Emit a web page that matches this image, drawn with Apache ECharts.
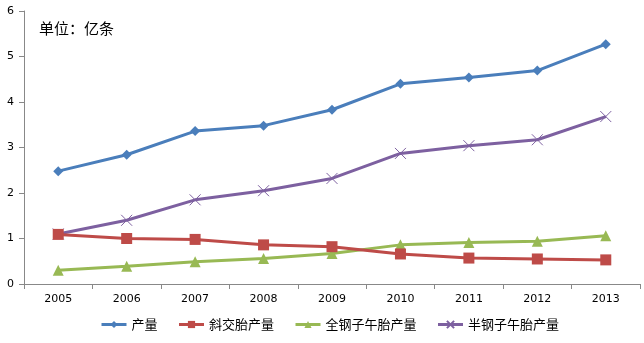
<!DOCTYPE html>
<html><head><meta charset="utf-8">
<script src="https://cdn.jsdelivr.net/npm/echarts@6/dist/echarts.min.js"></script>
<style>html,body{margin:0;padding:0;background:#fff}#c{width:644px;height:343px}</style>
</head><body><div id="c"></div>
<script>
const years = ['2005','2006','2007','2008','2009','2010','2011','2012','2013'];
const seriesNames = ['产量','斜交胎产量','全钢子午胎产量','半钢子午胎产量'];
const output = [2.48,2.84,3.36,3.48,3.83,4.40,4.54,4.69,5.27];
const biasOutput = [1.09,1.00,0.98,0.86,0.82,0.66,0.57,0.55,0.53];
const allSteelOutput = [0.30,0.39,0.49,0.56,0.67,0.86,0.91,0.94,1.06];
const semiSteelOutput = [1.10,1.40,1.85,2.05,2.32,2.87,3.04,3.17,3.68];
const yTicks = [0,1,2,3,4,5,6];
const unitLabel = '单位：亿条';

const colors = ['#4A7EBB','#BE4B48','#98B954','#7D60A0'];
const symbols = ['diamond','rect','triangle','path://M0,0L10,10M10,0L0,10'];
const sizes = [10,11,11,11];
const datas = [output,biasOutput,allSteelOutput,semiSteelOutput];

const chart = echarts.init(document.getElementById('c'));
chart.setOption({
  animation:false,
  textStyle:{fontFamily:'"Noto Sans CJK SC", "DejaVu Sans", sans-serif'},
  grid:{left:24,right:4,top:11,bottom:59},
  graphic:[{type:'text',left:39,top:21,style:{text:unitLabel,fill:'#000',font:'15px "Noto Sans CJK SC"'}}],
  legend:{bottom:12,left:100,padding:0,itemWidth:25,itemHeight:9,itemGap:20,
    textStyle:{fontSize:13,color:'#000'},
    lineStyle:{width:3},
    data:seriesNames.map((n,i)=>({name:n}))},
  xAxis:{type:'category',data:years,boundaryGap:true,
    axisLine:{lineStyle:{color:'#888'}},
    axisTick:{show:true,lineStyle:{color:'#888'},length:5},
    axisLabel:{color:'#000',fontSize:11,margin:10,fontFamily:'"DejaVu Sans", sans-serif'}},
  yAxis:{type:'value',min:0,max:6,interval:1,
    axisLine:{show:true,lineStyle:{color:'#888'}},
    axisTick:{show:true,lineStyle:{color:'#888'},length:5},
    splitLine:{show:false},
    axisLabel:{color:'#000',fontSize:11,margin:10,fontFamily:'"DejaVu Sans", sans-serif'}},
  series:datas.map((d,i)=>({
    name:seriesNames[i],type:'line',data:d,
    symbol:symbols[i],symbolSize:sizes[i],
    lineStyle:{width:3,color:colors[i]},
    itemStyle:{color:colors[i],borderColor:colors[i],borderWidth:i===3?1:0},
    z:10-i
  }))
});
</script></body></html>
